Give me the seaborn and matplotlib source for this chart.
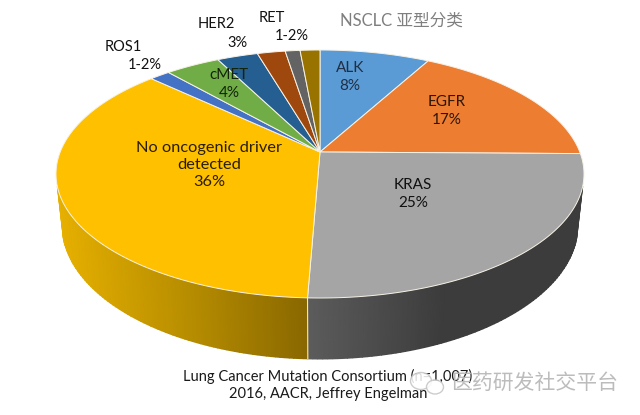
import numpy as np
import matplotlib
matplotlib.use("Agg")
import matplotlib.pyplot as plt
from matplotlib.colors import LinearSegmentedColormap
from matplotlib.patches import Ellipse
import seaborn as sns

# Slices clockwise from 12 o'clock; extents are the visual shares
categories = ["ALK", "EGFR", "KRAS", "No oncogenic driver detected", "ROS1", "cMET", "HER2", "RET", "Other A", "Other B"]
visual_share = [6.7, 15.6, 28.3, 38.1, 1.3, 3.4, 2.5, 1.7, 0.9, 1.2]
slice_colors = ["#5B9BD5", "#ED7D31", "#A5A5A5", "#FFC000", "#4472C4",
                "#70AD47", "#255E91", "#9E480E", "#636363", "#997300"]
wall_ramps = {2: ["#5C5C5C", "#3C3C3C", "#3C3C3C"], 3: ["#E6B000", "#B98F00", "#8A6800"]}
labels = [("ALK\n8%", 350, 77, "#1F2F45", 11), ("EGFR\n17%", 447, 111, "#2B1608", 11),
          ("KRAS\n25%", 413, 194, "#111111", 11), ("No oncogenic driver\ndetected\n36%", 209, 165, "#2A1E00", 11.8),
          ("ROS1", 123, 47, "#111111", 10.5), ("1-2%", 145, 65, "#111111", 10.5),
          ("cMET\n4%", 229, 84, "#12240A", 11), ("HER2", 216, 24, "#111111", 10.5), ("3%", 237, 43, "#111111", 10.5),
          ("RET", 272, 18, "#111111", 10.5), ("1-2%", 292, 36, "#111111", 10.5)]
title = "NSCLC 亚型分类"
source = "Lung Cancer Mutation Consortium (n=1,007)\n2016, AACR, Jeffrey Engelman"
watermark = "医药研发社交平台"

sns.set_theme(style="white")
plt.rcParams["font.family"] = ["Lato", "Noto Sans CJK SC", "DejaVu Sans"]
palette = sns.color_palette(slice_colors)

fig = plt.figure(figsize=(6.4, 4.15), dpi=100)
ax = fig.add_axes([0, 0, 1, 1])
ax.set_xlim(0, 640)
ax.set_ylim(415, 0)
ax.axis("off")

apex = (320, 152)
top = dict(cx=320, cy=174, rx=264, ry=124)
bot = dict(cx=320, cy=225, rx=258, ry=134)


def rim(e, phi):
    return e["cx"] + e["rx"] * np.sin(phi), e["cy"] - e["ry"] * np.cos(phi)


edges = np.cumsum([0] + visual_share) / sum(visual_share) * 2 * np.pi

# side wall
for i, ramp in wall_ramps.items():
    a, b = max(edges[i], np.pi / 2 + 0.1), min(edges[i + 1], 3 * np.pi / 2 - 0.1)
    phi = np.linspace(a, b, 80)
    xt, yt = rim(top, phi)
    xb, yb = rim(bot, phi)
    X, Y = np.vstack([xt, xb]), np.vstack([yt, yb])
    if i == 3:
        C = (xt.max() - xt) / (xt.max() - xt.min())
        cmap = LinearSegmentedColormap.from_list("w", ramp[::-1])
    else:
        C = (xt - xt.min()) / (xt.max() - xt.min())
        cmap = LinearSegmentedColormap.from_list("w", ramp)
    ax.pcolormesh(X, Y, np.vstack([C, C]), cmap=cmap, shading="gouraud", zorder=1, rasterized=True)
x0, y0 = rim(top, edges[3])
x1, y1 = rim(bot, edges[3])
ax.plot([x0, x1], [y0, y1], color="#F2E6C8", lw=0.8, zorder=2)

# top face
for i, c in enumerate(palette):
    phi = np.linspace(edges[i], edges[i + 1], 160)
    x, y = rim(top, phi)
    ax.fill(np.r_[apex[0], x], np.r_[apex[1], y], facecolor=c, edgecolor="#F7F2E6", lw=0.7, zorder=3)

for txt, x, y, c, fs in labels:
    ax.text(x, y, txt, ha="center", va="center", fontsize=fs, color=c, linespacing=1.3, zorder=5)

ax.text(401, 21, title, ha="center", va="center", fontsize=12, color="#7F7F7F", zorder=5)
ax.text(328, 385, source, ha="center", va="center", fontsize=10.5, color="#1A1A1A", linespacing=1.3, zorder=5)
ax.text(535, 383, watermark, ha="center", va="center", fontsize=15, color="#B5B5B5", alpha=0.9, zorder=6)

# WeChat mark over the source line
ax.add_patch(Ellipse((421, 381), 21, 17, facecolor="white", edgecolor="#C4C4C4", lw=1, alpha=0.85, zorder=6))
ax.add_patch(Ellipse((435, 387), 17, 14, facecolor="white", edgecolor="#C4C4C4", lw=1, alpha=0.85, zorder=6))

fig.savefig("out.png", dpi=100, facecolor="white")
